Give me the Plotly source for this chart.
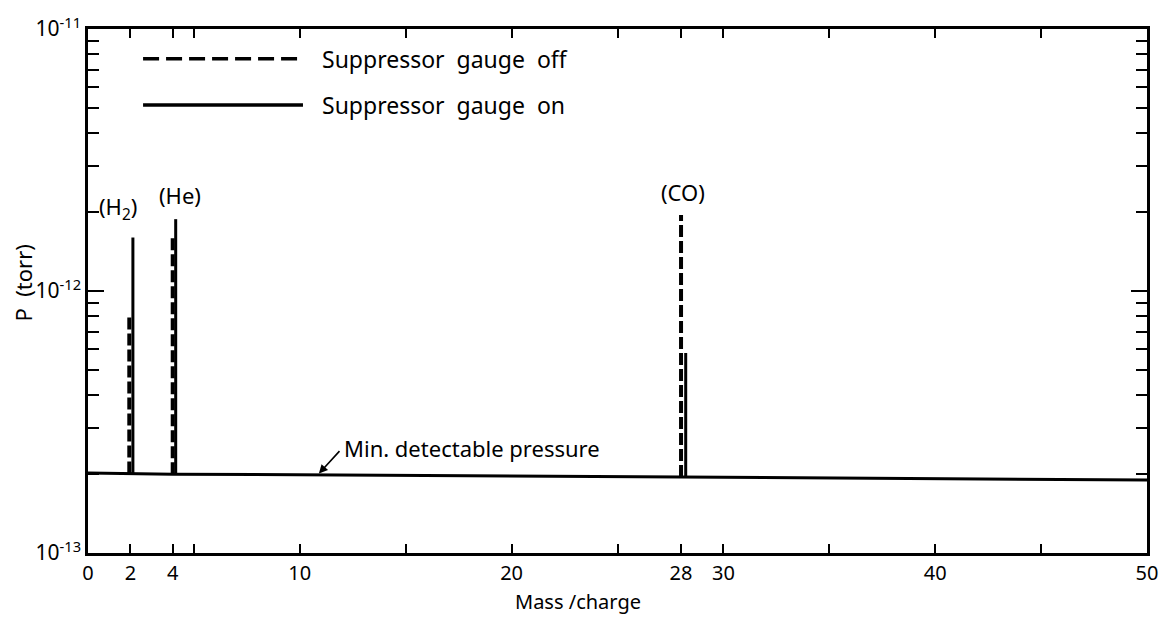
import plotly.graph_objects as go

# Mass/charge positions of the residual-gas peaks
peak_labels = ["(H<sub>2</sub>)", "(He)", "(CO)"]
mass_off = [1.95, 4.0, 28.0]          # gauge off (dashed) peak positions
mass_on = [2.12, 4.14, 28.22]         # gauge on (solid) peak positions
p_off = [8.1e-13, 1.6e-12, 1.95e-12]  # peak heights, gauge off (torr)
p_on = [1.6e-12, 1.88e-12, 5.8e-13]   # peak heights, gauge on (torr)

# Minimum detectable pressure background (torr) across the scan
base_mass = [0, 2, 4, 28, 50]
base_p = [2.02e-13, 2.01e-13, 2.0e-13, 1.95e-13, 1.9e-13]

x_tickvals = [0, 2, 4, 10, 20, 28, 30, 40, 50]
x_minor = [5, 15, 25, 35, 45]
y_tickvals = [1e-13, 1e-12, 1e-11]
y_ticktext = ["10<sup>-13</sup>", "10<sup>-12</sup>", "10<sup>-11</sup>"]
y_minor = [m * 10 ** e for e in (-13, -12) for m in range(2, 10)]


def background(m):
    for i in range(len(base_mass) - 1):
        x0, x1 = base_mass[i], base_mass[i + 1]
        if x0 <= m <= x1:
            t = (m - x0) / (x1 - x0)
            return base_p[i] + t * (base_p[i + 1] - base_p[i])
    return base_p[-1]


def peaks(masses, heights):
    # one vertical stroke per peak, rising from the background level
    xs, ys = [], []
    for m, p in zip(masses, heights):
        xs += [m, m, None]
        ys += [background(m), p, None]
    return xs, ys


FONT = "Noto Sans"
BLACK = "black"
fig = go.Figure()

# Background level (both gauge settings coincide here)
fig.add_trace(go.Scatter(x=base_mass, y=base_p, mode="lines",
                         line=dict(color=BLACK, width=3), showlegend=False))

xo, yo = peaks(mass_off, p_off)
fig.add_trace(go.Scatter(x=xo, y=yo, mode="lines", name="Suppressor gauge off",
                         line=dict(color=BLACK, width=4, dash="12px,4px"),
                         showlegend=False))
xn, yn = peaks(mass_on, p_on)
fig.add_trace(go.Scatter(x=xn, y=yn, mode="lines", name="Suppressor gauge on",
                         line=dict(color=BLACK, width=3),
                         showlegend=False))

# Legend drawn as long line samples with labels
SP = "&nbsp;&nbsp;"
legend_rows = [("Suppressor" + SP + "gauge" + SP + "off", "16px,7px", 0.943),
               ("Suppressor" + SP + "gauge" + SP + "on", "solid", 0.855)]
for text, dash, yp in legend_rows:
    fig.add_shape(type="line", xref="paper", yref="paper",
                  x0=0.052, x1=0.203, y0=yp, y1=yp,
                  line=dict(color=BLACK, width=3.5, dash=dash))
    fig.add_annotation(xref="paper", yref="paper", x=0.219, y=yp,
                       text=text, showarrow=False, xanchor="left",
                       yanchor="middle",
                       font=dict(family=FONT, size=23, color=BLACK))

# Peak labels
label_y = [-11.683, -11.635, -11.623]
label_x = [1.4, 4.35, 28.1]
for t, lx, ly in zip(peak_labels, label_x, label_y):
    fig.add_annotation(x=lx, y=ly, text=t, showarrow=False,
                       yanchor="middle",
                       font=dict(family=FONT, size=22, color=BLACK))

# Minimum detectable pressure marker
arrow_mass = 10.9
fig.add_annotation(x=arrow_mass, y=-12.697, text="", showarrow=True,
                   arrowhead=2, arrowsize=1.1, arrowwidth=1.6,
                   arrowcolor=BLACK,
                   ax=22, ay=-24, axref="pixel", ayref="pixel")
fig.add_annotation(x=arrow_mass, y=-12.697, text="Min. detectable pressure",
                   showarrow=False, xanchor="left", yanchor="middle",
                   xshift=23, yshift=26,
                   font=dict(family=FONT, size=22, color=BLACK))

# Axis titles
fig.add_annotation(xref="paper", yref="paper", x=0.463, y=-0.092,
                   text="Mass /charge", showarrow=False, yanchor="middle",
                   font=dict(family=FONT, size=20, color=BLACK))
fig.add_annotation(xref="paper", yref="paper", x=-0.061, y=0.515,
                   text="P&nbsp; (torr)", showarrow=False, textangle=-90,
                   xanchor="center", yanchor="middle",
                   font=dict(family=FONT, size=22, color=BLACK))

fig.update_layout(
    width=1170, height=620,
    margin=dict(l=88, r=22, t=23, b=67),
    paper_bgcolor="white", plot_bgcolor="white",
    font=dict(family=FONT, size=19, color=BLACK),
    xaxis=dict(
        range=[0, 50], tickmode="array", tickvals=x_tickvals,
        ticks="inside", ticklen=9, tickwidth=1.5, tickcolor=BLACK,
        showline=True, linecolor=BLACK, linewidth=2.5, mirror="ticks",
        showgrid=False, zeroline=False,
        minor=dict(tickvals=x_minor, ticks="inside", ticklen=9,
                   tickwidth=1.5, tickcolor=BLACK, showgrid=False),
        tickfont=dict(size=20),
    ),
    yaxis=dict(
        type="log", range=[-13, -11], tickmode="array",
        tickvals=y_tickvals, ticktext=y_ticktext,
        ticks="inside", ticklen=16, tickwidth=1.5, tickcolor=BLACK,
        showline=True, linecolor=BLACK, linewidth=2.5, mirror="ticks",
        showgrid=False, zeroline=False,
        minor=dict(tickvals=y_minor, ticks="inside", ticklen=11,
                   tickwidth=1.5, tickcolor=BLACK, showgrid=False),
        tickfont=dict(size=21),
    ),
)

fig.write_html("out.html")
